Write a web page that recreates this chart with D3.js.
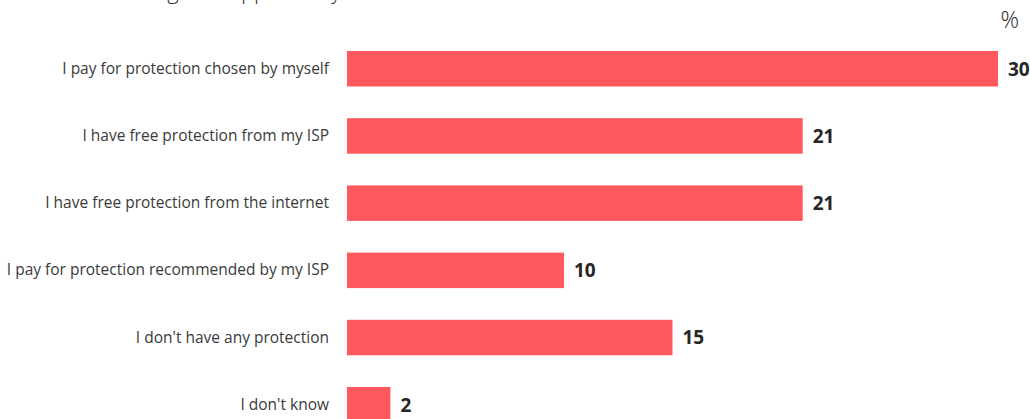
<!DOCTYPE html>
<html>
<head>
<meta charset="utf-8">
<script src="https://cdn.jsdelivr.net/npm/d3@7"></script>
<style>
  html, body { margin: 0; padding: 0; background: #fff; }
  svg { display: block; }
</style>
</head>
<body>
<svg id="chart" width="1030" height="419"></svg>
<script>
// Survey answers and their shares (%)
const categories = [
  "I pay for protection chosen by myself",
  "I have free protection from my ISP",
  "I have free protection from the internet",
  "I pay for protection recommended by my ISP",
  "I don't have any protection",
  "I don't know"
];
const values = [30, 21, 21, 10, 15, 2];
const titleText = "Antivirus setting that applies to you";
const unitLabel = "%";

const svg = d3.select("#chart");

const x = d3.scaleLinear().domain([0, 30]).range([347, 998]);
const y = d3.scaleBand()
  .domain(categories)
  .range([51, 422.5])
  .paddingInner(0.472)
  .paddingOuter(0);

// Title: its baseline sits at the top edge, so only descenders show
const title = svg.append("text")
  .attr("x", 0)
  .attr("y", -1)
  .attr("font-family", "'Open Sans', sans-serif")
  .attr("font-weight", 300)
  .attr("font-size", 22)
  .attr("fill", "#333")
  .text(titleText);
// shift the title so the "pp" of "applies" lands around x = 241
const ppIndex = titleText.indexOf("pp");
const ppX = title.node().getStartPositionOfChar(ppIndex).x;
title.attr("x", 241 - ppX);

// Unit label
svg.append("text")
  .attr("x", 1019)
  .attr("y", 28)
  .attr("text-anchor", "end")
  .attr("font-family", "'Open Sans', sans-serif")
  .attr("font-weight", 300)
  .attr("font-size", 23)
  .attr("fill", "#262626")
  .text(unitLabel);

const rows = categories.map((c, i) => ({ cat: c, val: values[i] }));

// Bars
svg.append("g").selectAll("rect")
  .data(rows)
  .join("rect")
  .attr("x", x(0))
  .attr("y", d => y(d.cat))
  .attr("width", d => x(d.val) - x(0))
  .attr("height", y.bandwidth())
  .attr("fill", "#FF585E");

// Category labels via a left axis without lines
const axis = svg.append("g")
  .attr("transform", `translate(${x(0) - 18},0)`)
  .call(d3.axisLeft(y).tickSize(0).tickPadding(0));
axis.select(".domain").remove();
axis.selectAll("text")
  .attr("font-family", "'Open Sans', sans-serif")
  .attr("font-size", 15.5)
  .attr("fill", "#3a3a3a");

// Value labels
svg.append("g").selectAll("text")
  .data(rows)
  .join("text")
  .attr("x", d => x(d.val) + 10)
  .attr("y", d => y(d.cat) + y.bandwidth() / 2)
  .attr("dy", "0.36em")
  .attr("font-family", "'Open Sans', sans-serif")
  .attr("font-weight", 700)
  .attr("font-size", 19)
  .attr("fill", "#262626")
  .text(d => d.val);
</script>
</body>
</html>
